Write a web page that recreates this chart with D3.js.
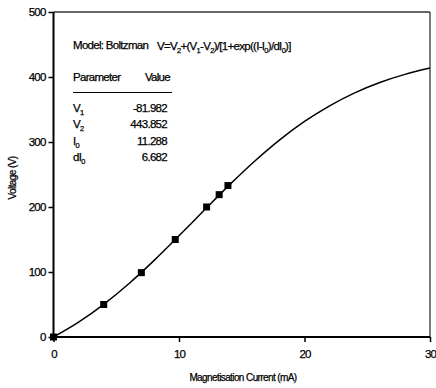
<!DOCTYPE html>
<html><head><meta charset="utf-8">
<script src="https://cdn.jsdelivr.net/npm/d3@7"></script>
<style>
body{margin:0;background:#fff;}
text{font-family:"Liberation Sans",Arial,sans-serif;fill:#000;stroke:#000;stroke-width:0.25;}
</style></head>
<body>
<svg id="c" width="436" height="388"></svg>
<script>
// measured points
const current = [0, 4, 7, 9.7, 12.2, 13.2, 13.9];
const voltage = [0, 50, 99, 150, 200, 219, 233];
// fitted curve
const curveI = [0,2,4,6,8,10,12,14,16,18,20,22,24,26,28,30];
const curveV = [0,22.9,50.3,82.0,117.5,155.7,194.9,233.6,270.0,302.9,331.6,355.7,375.6,391.5,404.0,413.7];
const xTicks = [0,10,20,30];
const yTicks = [0,100,200,300,400,500];
const paramNames = [["V","1"],["V","2"],["I","0"],["dI","0"]];
const paramValues = ["-81.982","443.852","11.288","6.682"];

const svg = d3.select("#c");
const L=53.5, R=430, T=12, B=337;
const x = d3.scaleLinear().domain([0,30]).range([L,R]);
const y = d3.scaleLinear().domain([0,500]).range([B,T]);

// frame (top/right)
svg.append("line").attr("x1",L).attr("x2",R).attr("y1",T).attr("y2",T).attr("stroke","#333").attr("stroke-width",1.3);
svg.append("line").attr("x1",R).attr("x2",R).attr("y1",T).attr("y2",B).attr("stroke","#333").attr("stroke-width",1.3);

const yAxis = svg.append("g").attr("transform",`translate(${L},0)`)
  .call(d3.axisLeft(y).tickValues(yTicks).tickSize(5).tickPadding(3));
const xAxis = svg.append("g").attr("transform",`translate(0,${B})`)
  .call(d3.axisBottom(x).tickValues(xTicks).tickSize(5).tickPadding(8));
[yAxis,xAxis].forEach(g=>{
  g.select(".domain").attr("stroke","#000").attr("stroke-width",2);
  g.selectAll(".tick line").attr("stroke","#000").attr("stroke-width",1.5);
  g.selectAll("text").attr("font-size",11.5).attr("font-family","Liberation Sans, Arial, sans-serif").attr("fill","#000").attr("letter-spacing",-0.8);
});
xAxis.select(".domain").attr("d",`M${L},0H${R}`);
yAxis.select(".domain").attr("d",`M0,${B}V${T}`);

// axis titles
svg.append("text").attr("x",243).attr("y",381).attr("text-anchor","middle")
  .attr("font-size",10).attr("letter-spacing",-0.6).text("Magnetisation Current (mA)");
svg.append("text").attr("transform","translate(16,178) rotate(-90)").attr("text-anchor","middle")
  .attr("font-size",10).attr("letter-spacing",-0.6).text("Voltage (V)");

// curve
const line = d3.line().x(d=>x(d[0])).y(d=>y(d[1])).curve(d3.curveMonotoneX);
svg.append("path").datum(curveI.map((v,i)=>[v,curveV[i]])).attr("d",line)
  .attr("fill","none").attr("stroke","#000").attr("stroke-width",1.5);

// points
svg.selectAll("rect.pt").data(current.map((v,i)=>[v,voltage[i]])).enter().append("rect")
  .attr("class","pt").attr("x",d=>x(d[0])-3.5).attr("y",d=>y(d[1])-3.5)
  .attr("width",7).attr("height",7).attr("fill","#000");

// annotation
const fs=11.5, ls=-0.7;
const ann = svg.append("g").attr("font-size",fs).attr("letter-spacing",ls);
ann.append("text").attr("x",73).attr("y",49).text("Model: Boltzman");
const f = ann.append("text").attr("x",157).attr("y",50);
const parts=[["V=V",0],["2",1],["+(V",0],["1",1],["-V",0],["2",1],[")/[1+exp((I-I",0],["0",1],[")/dI",0],["0",1],[")]",0]];
parts.forEach(p=>{
  const ts=f.append("tspan").text(p[0]);
  if(p[1]) ts.attr("font-size",7.5).attr("dy",3);
  else if(f.selectAll("tspan").size()>1) ts.attr("dy",-3);
});
ann.append("text").attr("x",73).attr("y",81).text("Parameter");
ann.append("text").attr("x",170).attr("y",81).attr("text-anchor","end").text("Value");
svg.append("line").attr("x1",73).attr("x2",172).attr("y1",92.5).attr("y2",92.5).attr("stroke","#000").attr("stroke-width",1);
const rowY=[112,128,145,161];
paramNames.forEach((p,i)=>{
  const t=ann.append("text").attr("x",73).attr("y",rowY[i]);
  t.append("tspan").text(p[0]);
  t.append("tspan").attr("font-size",7.5).attr("dy",3).text(p[1]);
  ann.append("text").attr("x",167).attr("y",rowY[i]).attr("text-anchor","end").text(paramValues[i]);
});
</script>
</body></html>
